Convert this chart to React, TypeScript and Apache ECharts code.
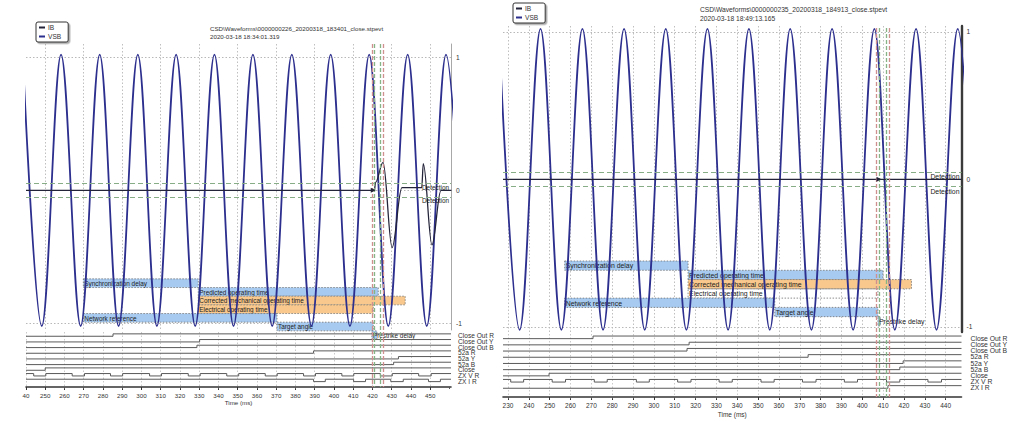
import React, { useEffect, useRef } from "react";
import * as echarts from "echarts";

const FONT = "'Liberation Sans', Arial, Helvetica, sans-serif";

// ---------- texts ----------
const L_TITLE = "CSD\\Waveforms\\0000000226_20200318_183401_close.stpevt";
const L_DATE = "2020-03-18 18:34:01.319";
const R_TITLE = "CSD\\Waveforms\\0000000235_20200318_184913_close.stpevt";
const R_DATE = "2020-03-18 18:49:13.165";
const SERIES_NAMES = ["IB", "VSB"];
const X_NAME = "Time (ms)";
const DETECTION_LABEL = "Detection";
const DIG_LABELS = ["Close Out R", "Close Out Y", "Close Out B", "52a R", "52a Y", "52a B", "Close", "ZX V R", "ZX I R"];
const BAR_NAMES = [
  "Synchronization delay",
  "Predicted operating time",
  "Corrected mechanical operating time",
  "Electrical operating time",
  "Network reference",
  "Target angle",
  "Prestrike delay",
];

// ---------- axes ----------
const L_X_MIN = 240;
const L_X_MAX = 460.8;
const R_X_MIN = 227.6;
const R_X_MAX = 447.6;
const L_X_LABELS = [240, 250, 260, 270, 280, 290, 300, 310, 320, 330, 340, 350, 360, 370, 380, 390, 400, 410, 420, 430, 440, 450];
const R_X_LABELS = [230, 240, 250, 260, 270, 280, 290, 300, 310, 320, 330, 340, 350, 360, 370, 380, 390, 400, 410, 420, 430, 440];
const L_ANALOG_GRID_X = [250, 270, 290, 310, 330, 350, 370, 390, 410, 430, 450];
const R_ANALOG_GRID_X = [230, 240, 250, 260, 270, 280, 290, 300, 310, 320, 330, 340, 350, 360, 370, 380, 390, 400, 410, 420, 430, 440];
const Y_LABELS = [-1, 0, 1];
const DETECTION_LEVELS = [0.05, -0.05];

// ---------- analog waveforms (peaks / troughs) ----------
const L_VSB = [
  [238.3, 1.02], [248.2, -1.02], [258.2, 1.02], [268.4, -1.02], [278.3, 1.02], [288.1, -1.02],
  [298.1, 1.02], [308.0, -1.02], [318.0, 1.02], [327.9, -1.02], [337.9, 1.02], [347.8, -1.02],
  [357.9, 1.02], [367.9, -1.02], [378.1, 1.02], [388.3, -1.02], [398.3, 1.02], [408.3, -1.02],
  [418.3, 1.02], [428.2, -1.02], [438.3, 1.02], [448.2, -1.02], [458.2, 1.02], [468.2, -1.02],
];
const L_IB = [
  [240, 0], [421.0, 0], [421.6, 0.06], [425.5, 0.21], [430.2, -0.43], [435.3, 0.02],
  [445.6, 0.02], [446.4, 0.2], [450.9, -0.41], [455.6, 0.0], [461, 0],
];
const R_VSB = [
  [225.6, 1.02], [235.6, -1.02], [245.6, 1.02], [255.6, -1.02], [265.7, 1.02], [275.6, -1.02],
  [285.7, 1.02], [295.6, -1.02], [305.7, 1.02], [315.6, -1.02], [325.7, 1.02], [335.6, -1.02],
  [345.6, 1.02], [355.6, -1.02], [365.4, 1.02], [375.6, -1.02], [385.5, 1.02], [395.6, -1.02],
  [405.8, 1.02], [415.6, -1.02], [425.8, 1.02], [435.6, -1.02], [445.8, 1.02], [455.6, -1.02],
];
const R_IB = [[227.6, 0], [447.6, 0]];
const L_ARROW = [420.4, 0];
const R_ARROW = [408.0, 0];

// ---------- cursors ----------
const L_CURSORS = [419.9, 420.8, 424.3, 425.5];
const R_CURSORS = [406.8, 408.0, 411.6, 412.9];
const CURSOR_KIND = ["red", "green", "green", "red"];

// ---------- timing bars ----------
const L_BAR_START = [269.8, 329.5, 329.5, 329.5, 269.8, 370.4, 419.7];
const L_BAR_END = [329.5, 423.0, 437.0, 420.4, 370.4, 420.4, 422.3];
const L_BAR_KIND = ["blue", "blue", "orange", "orange", "blue", "blue", "blue"];
const R_BAR_START = [257.2, 316.4, 316.4, 316.4, 257.2, 358.0, 407.5];
const R_BAR_END = [316.4, 409.9, 423.6, 407.5, 358.0, 407.5, 408.6];
const R_BAR_KIND = ["blue", "blue", "orange", "none", "blue", "blue", "blue"];

// ---------- digital traces: [time, state] ----------
const L_CLOSE_OUT_R = [[240, 0], [285.2, 1], [460.8, 1]];
const L_CLOSE_OUT_Y = [[240, 0], [330.2, 1], [460.8, 1]];
const L_CLOSE_OUT_B = [[240, 0], [328.8, 1], [460.8, 1]];
const L_52A_R = [[240, 0], [389.4, 1], [460.8, 1]];
const L_52A_Y = [[240, 0], [433.5, 1], [460.8, 1]];
const L_52A_B = [[240, 0], [431.0, 1], [460.8, 1]];
const L_CLOSE = [[240, 0], [250.0, 1], [460.8, 1]];
const L_ZX_V_R = [
  [240, 1], [244.0, 0], [250.3, 1], [264.0, 0], [270.4, 1], [283.9, 0], [290.2, 1], [304.2, 0],
  [310.4, 1], [324.3, 0], [330.5, 1], [344.3, 0], [350.5, 1], [364.3, 0], [370.5, 1], [384.2, 0],
  [390.4, 1], [404.1, 0], [410.3, 1], [424.1, 0], [430.3, 1], [444.0, 0], [450.5, 1], [460.8, 1],
];
const L_ZX_I_R = [
  [240, 1], [389.4, 0], [395.5, 1], [410.2, 0], [416.4, 1], [429.5, 0], [436.0, 1], [449.1, 0],
  [455.3, 1], [460.8, 1],
];
const R_CLOSE_OUT_R = [[227.6, 0], [270.8, 1], [447.6, 1]];
const R_CLOSE_OUT_Y = [[227.6, 0], [316.9, 1], [447.6, 1]];
const R_CLOSE_OUT_B = [[227.6, 0], [315.9, 1], [447.6, 1]];
const R_52A_R = [[227.6, 0], [374.0, 1], [447.6, 1]];
const R_52A_Y = [[227.6, 0], [419.6, 1], [447.6, 1]];
const R_52A_B = [[227.6, 0], [418.0, 1], [447.6, 1]];
const R_CLOSE = [[227.6, 0], [249.7, 1], [447.6, 1]];
const R_ZX_V_R = [
  [227.6, 1], [231.3, 0], [237.5, 1], [251.2, 0], [257.6, 1], [271.4, 0], [277.6, 1], [291.6, 0],
  [297.8, 1], [311.4, 0], [317.8, 1], [331.3, 0], [337.6, 1], [351.4, 0], [357.7, 1], [371.3, 0],
  [377.8, 1], [391.4, 0], [397.7, 1], [411.6, 0], [418.0, 1], [431.5, 0], [438.0, 1], [447.6, 1],
];
const R_ZX_I_R = [[227.6, 0], [412.3, 1], [447.6, 1]];

const L_DIGITAL = [L_CLOSE_OUT_R, L_CLOSE_OUT_Y, L_CLOSE_OUT_B, L_52A_R, L_52A_Y, L_52A_B, L_CLOSE, L_ZX_V_R, L_ZX_I_R];
const R_DIGITAL = [R_CLOSE_OUT_R, R_CLOSE_OUT_Y, R_CLOSE_OUT_B, R_52A_R, R_52A_Y, R_52A_B, R_CLOSE, R_ZX_V_R, R_ZX_I_R];

// ---------- styles ----------
const VSB_COLOR = "#2d2f8e";
const IB_COLOR = "#23233a";
const BAR_FILL: Record<string, string> = { blue: "#a6caf0", orange: "#f8c88c", none: "rgba(255,255,255,0)" };
const CURSOR_COLOR: Record<string, string> = { red: "#cf8f8f", green: "#86b486" };
const DIG_LOW = 0.75;
const DIG_HIGH = 0.33;
const DIG_LABEL_POS = 0.7;

function barsSeries(xi: number, yi: number, starts: number[], ends: number[], kinds: string[], fs: number) {
  return {
    type: "custom",
    xAxisIndex: xi,
    yAxisIndex: yi,
    z: 2,
    silent: true,
    clip: false,
    data: BAR_NAMES.map((_, i) => [starts[i], ends[i], i]),
    renderItem: (params: any, api: any) => {
      const i = params.dataIndex;
      const p0 = api.coord([api.value(0), api.value(2)]);
      const p1 = api.coord([api.value(1), api.value(2) + 1]);
      return {
        type: "group",
        children: [
          {
            type: "rect",
            shape: { x: p0[0], y: p0[1], width: p1[0] - p0[0], height: p1[1] - p0[1] },
            style: { fill: BAR_FILL[kinds[i]], stroke: "#707070", lineWidth: 0.8, lineDash: [1.5, 1.5] },
          },
          {
            type: "text",
            style: {
              text: BAR_NAMES[i],
              x: p0[0] + 1,
              y: (p0[1] + p1[1]) / 2 + 0.3,
              verticalAlign: "middle",
              align: "left",
              fontSize: fs,
              fontFamily: FONT,
              fill: "#1c1c1c",
            },
          },
        ],
      };
    },
  };
}

// labels of the digital channels, drawn at the right end of each channel row
function digitalLabelSeries(xi: number, yi: number, xEnd: number, margin: number, fs: number) {
  return {
    type: "custom",
    xAxisIndex: xi,
    yAxisIndex: yi,
    silent: true,
    clip: false,
    z: 5,
    data: DIG_LABELS.map((_, i) => [xEnd, i + DIG_LABEL_POS]),
    renderItem: (params: any, api: any) => {
      const p = api.coord([api.value(0), api.value(1)]);
      return {
        type: "text",
        style: {
          text: DIG_LABELS[params.dataIndex],
          x: p[0] + margin,
          y: p[1],
          verticalAlign: "middle",
          align: "left",
          fontSize: fs,
          fontFamily: FONT,
          fill: "#333",
        },
      };
    },
  };
}

function cursorLines(cursors: number[]) {
  return cursors.map((t, i) => ({
    xAxis: t,
    lineStyle: { color: CURSOR_COLOR[CURSOR_KIND[i]], type: [4, 2], width: 1.3 },
    label: { show: false },
  }));
}

function detectionLines(fs: number) {
  return DETECTION_LEVELS.map((v) => ({
    yAxis: v,
    lineStyle: { color: "#86ad86", type: [5, 3], width: 1.1 },
    label: {
      show: true,
      formatter: DETECTION_LABEL,
      position: "insideEndBottom",
      distance: [2, 1],
      fontSize: fs,
      fontFamily: FONT,
      color: "#222",
    },
  }));
}

function digitalSeries(xi: number, yi: number, traces: number[][][], cursors: number[]) {
  return traces.map((tr, i) => ({
    type: "line",
    xAxisIndex: xi,
    yAxisIndex: yi,
    step: "end",
    showSymbol: false,
    silent: true,
    z: 2,
    lineStyle: { color: "#5a5a5a", width: 1 },
    data: tr.map((p) => [p[0], i + (p[1] ? DIG_HIGH : DIG_LOW)]),
    markLine:
      i === 0
        ? { silent: true, symbol: ["none", "none"], animation: false, data: cursorLines(cursors) }
        : undefined,
  }));
}

function analogXAxis(grid: number, min: number, max: number, gridValues: number[]) {
  return {
    type: "value",
    gridIndex: grid,
    min,
    max,
    axisLine: { show: false },
    axisLabel: { show: false },
    axisTick: { show: false, customValues: gridValues },
    splitLine: { show: true, lineStyle: { color: "#b8b8b8", type: [1.5, 2], width: 0.9 } },
  };
}

function digitalXAxis(grid: number, min: number, max: number, labels: number[], fs: number, gap: number) {
  return {
    type: "value",
    gridIndex: grid,
    min,
    max,
    name: X_NAME,
    nameLocation: "middle",
    nameGap: gap,
    nameTextStyle: { fontSize: fs, fontFamily: FONT, color: "#333" },
    axisLine: { show: true, onZero: false, lineStyle: { color: "#333", width: 1.6 } },
    axisTick: { show: true, customValues: labels, length: 3, lineStyle: { color: "#333" } },
    minorTick: { show: true, splitNumber: 5, length: 2, lineStyle: { color: "#555" } },
    axisLabel: {
      customValues: labels,
      formatter: (v: number) => (v === 240 && min === 240 ? "40" : String(v)),
      fontSize: fs,
      fontFamily: FONT,
      color: "#333",
      margin: 5,
    },
    splitLine: { show: true, lineStyle: { color: "#c4c4c4", type: [1.5, 2], width: 0.9 } },
  };
}

function analogYAxis(grid: number, min: number, max: number, lineColor: string, lineW: number) {
  return {
    type: "value",
    gridIndex: grid,
    position: "right",
    min,
    max,
    axisLine: { show: true, lineStyle: { color: lineColor, width: lineW } },
    axisTick: { show: false, customValues: Y_LABELS },
    axisLabel: { customValues: Y_LABELS, fontSize: 6.6, fontFamily: FONT, color: "#333", margin: 5, showMinLabel: true, showMaxLabel: true },
    splitLine: { show: true, lineStyle: { color: "#b0b0b0", type: [1.5, 2], width: 0.9 } },
  };
}

function hiddenYAxis(grid: number, min: number, max: number) {
  return { type: "value", gridIndex: grid, inverse: true, min, max, show: false, splitLine: { show: false } };
}

function legend(left: number, top: number) {
  return {
    left,
    top,
    orient: "vertical",
    data: SERIES_NAMES,
    icon: "rect",
    itemWidth: 6,
    itemHeight: 2,
    itemGap: 2,
    padding: [2, 7, 2, 3],
    borderColor: "#333",
    borderWidth: 1,
    borderRadius: 2,
    backgroundColor: "#fff",
    shadowColor: "rgba(0,0,0,0.35)",
    shadowOffsetX: 1.5,
    shadowOffsetY: 1.5,
    shadowBlur: 1,
    textStyle: { fontSize: 6.6, fontFamily: FONT, color: "#333", padding: [0, 0, 0, -2] },
    selectedMode: false,
  };
}

function titleText(x: number, y: number, text: string, fs: number) {
  return {
    type: "text",
    x,
    y,
    silent: true,
    style: { text, fontSize: fs, fontFamily: FONT, fill: "#333", verticalAlign: "middle" },
  };
}

export default function App() {
  const ref = useRef<HTMLDivElement>(null);

  useEffect(() => {
    if (!ref.current) return;
    const chart = echarts.init(ref.current, null, { renderer: "svg" });

    const option: any = {
      animation: false,
      backgroundColor: "#ffffff",
      textStyle: { fontFamily: FONT },
      grid: [
        { left: 26, top: 44, width: 425, height: 286 },
        { left: 26, top: 332, width: 425, height: 55 },
        { left: 503, top: 26, width: 458.5, height: 306 },
        { left: 503, top: 334, width: 458.5, height: 63 },
      ],
      xAxis: [
        analogXAxis(0, L_X_MIN, L_X_MAX, L_ANALOG_GRID_X),
        digitalXAxis(1, L_X_MIN, L_X_MAX, L_X_LABELS, 6.2, 12.5),
        analogXAxis(2, R_X_MIN, R_X_MAX, R_ANALOG_GRID_X),
        digitalXAxis(3, R_X_MIN, R_X_MAX, R_X_LABELS, 6.5, 13.6),
      ],
      yAxis: [
        analogYAxis(0, -1.05, 1.1, "#a8a8a8", 1),
        hiddenYAxis(0, -27.1, 5.9),
        hiddenYAxis(1, 0, 9.7),
        analogYAxis(2, -1.035, 1.04, "#3a3a3a", 2.4),
        hiddenYAxis(2, -25.32, 7.65),
        hiddenYAxis(3, 0, 10.16),
      ],
      legend: [legend(36, 22), legend(513, 3)],
      graphic: [
        titleText(210, 28, L_TITLE, 6.2),
        titleText(210, 36, L_DATE, 6.2),
        titleText(700, 9, R_TITLE, 6.7),
        titleText(700, 18, R_DATE, 6.7),
      ],
      series: [
        barsSeries(0, 1, L_BAR_START, L_BAR_END, L_BAR_KIND, 6.4),
        {
          name: "VSB",
          type: "line",
          xAxisIndex: 0,
          yAxisIndex: 0,
          data: L_VSB,
          smooth: 0.36,
          smoothMonotone: "x",
          showSymbol: false,
          z: 3,
          color: VSB_COLOR,
          lineStyle: { color: VSB_COLOR, width: 1.8 },
          markLine: {
            silent: true,
            symbol: ["none", "none"],
            animation: false,
            data: [...detectionLines(6.4), ...cursorLines(L_CURSORS)],
          },
        },
        {
          name: "IB",
          type: "line",
          xAxisIndex: 0,
          yAxisIndex: 0,
          data: L_IB,
          smooth: 0.36,
          smoothMonotone: "x",
          showSymbol: false,
          z: 4,
          color: IB_COLOR,
          lineStyle: { color: IB_COLOR, width: 1.3 },
          markPoint: {
            symbol: "triangle",
            symbolSize: 5,
            symbolRotate: -90,
            silent: true,
            label: { show: false },
            itemStyle: { color: IB_COLOR },
            data: [{ coord: L_ARROW }],
          },
        },
        ...digitalSeries(1, 2, L_DIGITAL, L_CURSORS),
        digitalLabelSeries(1, 2, L_X_MAX, 7, 6.6),
        barsSeries(2, 4, R_BAR_START, R_BAR_END, R_BAR_KIND, 6.9),
        {
          name: "VSB",
          type: "line",
          xAxisIndex: 2,
          yAxisIndex: 3,
          data: R_VSB,
          smooth: 0.36,
          smoothMonotone: "x",
          showSymbol: false,
          z: 3,
          color: VSB_COLOR,
          lineStyle: { color: VSB_COLOR, width: 1.8 },
          markLine: {
            silent: true,
            symbol: ["none", "none"],
            animation: false,
            data: [...detectionLines(6.9), ...cursorLines(R_CURSORS)],
          },
        },
        {
          name: "IB",
          type: "line",
          xAxisIndex: 2,
          yAxisIndex: 3,
          data: R_IB,
          showSymbol: false,
          z: 4,
          color: IB_COLOR,
          lineStyle: { color: IB_COLOR, width: 1.3 },
          markPoint: {
            symbol: "triangle",
            symbolSize: 5,
            symbolRotate: -90,
            silent: true,
            label: { show: false },
            itemStyle: { color: IB_COLOR },
            data: [{ coord: R_ARROW }],
          },
        },
        ...digitalSeries(3, 5, R_DIGITAL, R_CURSORS),
        digitalLabelSeries(3, 5, R_X_MAX, 9, 6.8),
      ],
    };

    chart.setOption(option);
    return () => chart.dispose();
  }, []);

  return (
    <div
      ref={ref}
      style={{ position: "fixed", left: 0, top: 0, width: 1024, height: 422, background: "#fff" }}
    />
  );
}
